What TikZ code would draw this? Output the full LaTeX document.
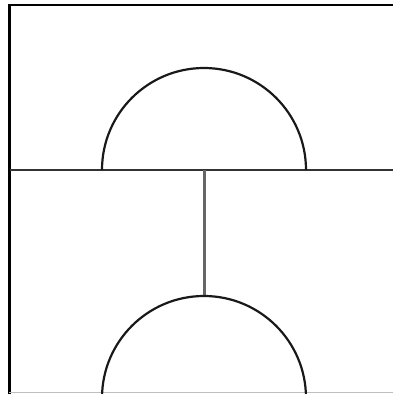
\documentclass[tikz,border=0pt]{standalone}
\tikzset{
  frame/.style={line width=2.8pt, black},
  divider/.style={line width=2.2pt, black!80},
  stem/.style={line width=3pt, black!60},
  arcline/.style={line width=2.2pt, black!90},
  faint/.style={line width=1pt, black!25}
}
\begin{document}
\begin{tikzpicture}[x=1pt,y=-1pt]
\useasboundingbox (0,0) rectangle (393,394);
\begin{scope}
\clip (0,0) rectangle (393,394);
\coordinate (tl) at (9.5,5);
\coordinate (tr) at (393,5);
\coordinate (bl) at (9.5,394);
\coordinate (ml) at (9.5,170);
\coordinate (mr) at (393,170);
\coordinate (c1) at (204,170);
\coordinate (c2) at (204,398);
\coordinate (top2) at (204,296);
% frame
\draw[frame] (tr) -- (tl) -- (bl);
\draw[faint] (9,392) -- (393,392);
% divider
\draw[divider] (ml) -- (mr);
% upper semicircle
\draw[arcline] (102,170) arc[start angle=180, end angle=360, radius=102];
% stem
\draw[stem] (c1) -- (top2);
% lower semicircle
\draw[arcline] (102,398) arc[start angle=180, end angle=360, radius=102];
\end{scope}
\end{tikzpicture}
\end{document}
